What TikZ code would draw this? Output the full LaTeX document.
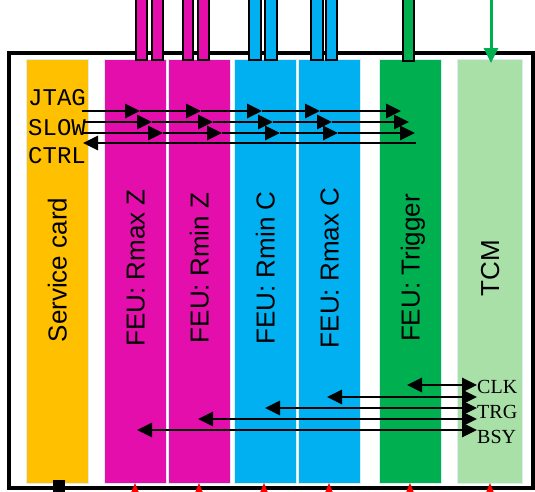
\documentclass[tikz,border=0pt]{standalone}
\usepackage{fontspec}
\setmainfont{Liberation Serif}
\newfontfamily\boardfont{Liberation Sans}
\newfontfamily\busfont{Liberation Mono}
\usetikzlibrary{arrows.meta}

\definecolor{cardorange}{RGB}{255,192,0}
\definecolor{feumag}{RGB}{228,14,172}
\definecolor{feucyan}{RGB}{0,176,240}
\definecolor{trggreen}{RGB}{0,176,80}
\definecolor{tcmgreen}{RGB}{168,224,168}
\definecolor{edgeblue}{RGB}{218,238,243}

\tikzset{
  board/.style={draw=edgeblue, line width=0.8pt, fill=#1, inner sep=0pt,
                minimum height=424pt, minimum width=62pt},
  boardlabel/.style={rotate=90, anchor=base, inner sep=0pt,
                     font=\boardfont\fontsize{26}{26}\selectfont},
  plug/.style={draw=black, line width=1.5pt, fill=#1},
  bus/.style={line width=2.7pt, -{Triangle[length=15pt,width=14pt]}},
  dbus/.style={line width=2.7pt, {Triangle[length=15pt,width=14pt]}-{Triangle[length=15pt,width=14pt]}},
  sigmono/.style={anchor=base west, inner sep=0pt,
                  font=\busfont\fontsize{24}{24}\selectfont},
  sigserif/.style={anchor=base west, inner sep=0pt,
                   font=\fontsize{20}{20}\selectfont},
  marker/.style={fill=red, draw=none}
}

\begin{document}
\begin{tikzpicture}[x=1pt, y=-1pt]
\useasboundingbox (0,0) rectangle (535,491);
\clip (0,0) rectangle (535,491);

% crate frame
\draw[line width=3.4pt] (9,53) rectangle (533,488);

% boards
\node[board=cardorange] (sc)   at (57,271)  {};
\node[board=feumag]     (rmaxz) at (135,271) {};
\node[board=feumag]     (rminz) at (199,271) {};
\node[board=feucyan]    (rminc) at (265,271) {};
\node[board=feucyan]    (rmaxc) at (329,271) {};
\node[board=trggreen]   (trg)  at (410,271) {};
\node[board=tcmgreen, minimum width=65pt] (tcm) at (489.5,271) {};

% board names
\node[boardlabel] (lsc)    at (66.5,270)  {Service card};
\node[boardlabel] (lrmaxz) at (144.5,268) {FEU: Rmax Z};
\node[boardlabel] (lrminz) at (208.5,268) {FEU: Rmin Z};
\node[boardlabel] (lrminc) at (274.5,268) {FEU: Rmin C};
\node[boardlabel] (lrmaxc) at (338.5,268) {FEU: Rmax C};
\node[boardlabel] (ltrg)   at (419.5,268) {FEU: Trigger};
\node[boardlabel] (ltcm)   at (499,268)   {TCM};

% cables leaving the front panels
\draw[plug=feumag]  (136,-5) rectangle (147,60);
\draw[plug=feumag]  (152,-5) rectangle (163,60);
\draw[plug=feumag]  (183,-5) rectangle (193,60);
\draw[plug=feumag]  (198,-5) rectangle (209,60);
\draw[plug=feucyan] (249,-5) rectangle (261,60);
\draw[plug=feucyan] (265,-5) rectangle (277,60);
\draw[plug=feucyan] (311,-5) rectangle (323,60);
\draw[plug=feucyan] (326,-5) rectangle (337,60);
\draw[plug=trggreen] (403,-5) rectangle (414,61);

% trigger input to the TCM
\coordinate (tin) at (491,-5);
\coordinate (tcmtop) at (491,63);
\draw[line width=3pt, trggreen, -{Triangle[length=15pt,width=14pt]}] (tin) -- (tcmtop);

% service bus labels
\node[sigmono] (jtag) at (28,105) {JTAG};
\node[sigmono] (slow) at (28,135) {SLOW};
\node[sigmono] (ctrl) at (28,163) {CTRL};

% service bus lines
\foreach \i/\x in {0/82,1/140,2/201,3/262,4/320,5/401}
  \coordinate (a\i) at (\x,111);
\foreach \i/\x in {0/83,1/152,2/213,3/273,4/332,5/409}
  \coordinate (b\i) at (\x,122);
\foreach \i/\x in {0/82,1/163,2/222,3/280,4/338,5/415}
  \coordinate (c\i) at (\x,133);
\coordinate (d0) at (83,143);
\coordinate (d1) at (416,143);
\foreach \r in {a,b,c}
  \foreach \p/\q in {0/1,1/2,2/3,3/4,4/5}
    \draw[bus] (\r\p) -- (\r\q);
\draw[bus] (d1) -- (d0);

% timing signal labels
\node[sigserif] (clk) at (477,393) {CLK};
\node[sigserif] (trgs) at (477,418) {TRG};
\node[sigserif] (bsy) at (477,443) {BSY};

% timing lines from the TCM
\foreach \i/\x/\y in {1/407/385,2/327/397,3/265/408,4/198/419,5/137/430}{
  \coordinate (tl\i) at (\x,\y);
  \coordinate (tr\i) at (477,\y);
  \draw[dbus] (tl\i) -- (tr\i);
}

% backplane key and slot markers
\fill (53,480) rectangle (65,495);
\foreach \x in {135,199,264,329,410,490}
  \fill[marker] (\x-4.5,494) -- (\x,483) -- (\x+4.5,494) -- cycle;
\end{tikzpicture}
\end{document}
